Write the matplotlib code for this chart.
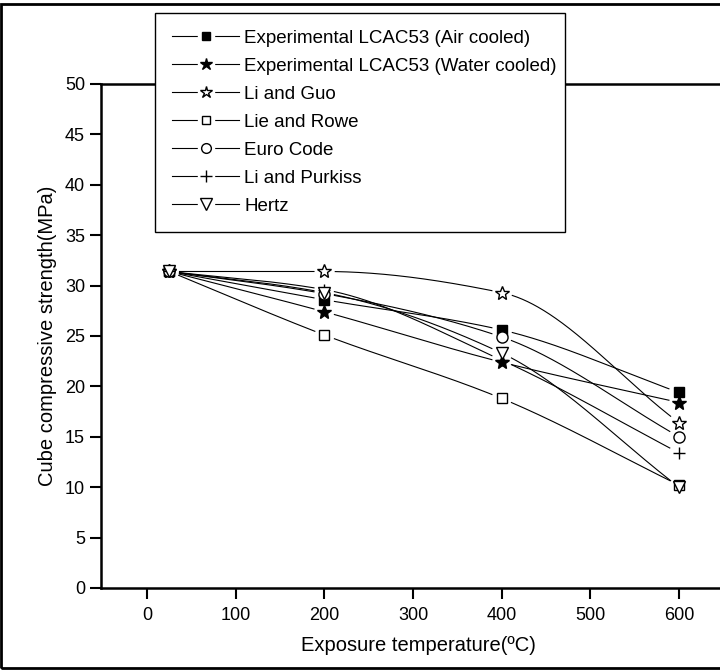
import numpy as np
import matplotlib
matplotlib.use('Agg')
import matplotlib.pyplot as plt
from matplotlib.patches import Rectangle
from matplotlib.legend_handler import HandlerTuple

plt.rcParams['font.family'] = ['Liberation Sans', 'DejaVu Sans']

# Data
temps = [25, 200, 400, 600]
air_cooled = [31.4, 28.6, 25.6, 19.4]
water_cooled = [31.4, 27.4, 22.4, 18.4]
li_guo = [31.4, 31.4, 29.3, 16.4]
lie_rowe = [31.4, 25.1, 18.8, 10.2]
euro_code = [31.4, 29.2, 24.9, 15.0]
li_purkiss = [31.4, 29.6, 22.6, 13.4]
hertz = [31.4, 29.3, 23.3, 10.0]

labels = ['Experimental LCAC53 (Air cooled)', 'Experimental LCAC53 (Water cooled)',
          'Li and Guo', 'Lie and Rowe', 'Euro Code', 'Li and Purkiss', 'Hertz']
series = [air_cooled, water_cooled, li_guo, lie_rowe, euro_code, li_purkiss, hertz]
markers = ['s', '*', '*', 's', 'o', '+', 'v']
filled = [True, True, False, False, False, False, False]
msizes = [7, 10, 10, 7, 8, 9, 9]


def pchip(x, y, xs):
    # monotone cubic interpolation (smooth connecting curve)
    x = np.asarray(x, float)
    y = np.asarray(y, float)
    h = np.diff(x)
    d = np.diff(y) / h
    n = len(x)
    m = np.zeros(n)
    for k in range(1, n - 1):
        if d[k - 1] * d[k] <= 0:
            m[k] = 0
        else:
            w1 = 2 * h[k] + h[k - 1]
            w2 = h[k] + 2 * h[k - 1]
            m[k] = (w1 + w2) / (w1 / d[k - 1] + w2 / d[k])
    m[0] = d[0]
    m[-1] = d[-1]
    out = np.empty_like(xs)
    for i, xv in enumerate(xs):
        k = min(np.searchsorted(x, xv, side='right') - 1, n - 2)
        t = (xv - x[k]) / h[k]
        h00 = 2 * t**3 - 3 * t**2 + 1
        h10 = t**3 - 2 * t**2 + t
        h01 = -2 * t**3 + 3 * t**2
        h11 = t**3 - t**2
        out[i] = h00 * y[k] + h10 * h[k] * m[k] + h01 * y[k + 1] + h11 * h[k] * m[k + 1]
    return out


fig = plt.figure(figsize=(7.2, 6.7), dpi=100)
ax = fig.add_axes([101 / 720, 82 / 670, 634 / 720, 504 / 670])
ax.set_xlim(-52, 663)
ax.set_ylim(0, 50)

xs = np.linspace(temps[0], temps[-1], 600)
fig.canvas.draw()
handles = []
for ys, mk, fl, ms, lab in zip(series, markers, filled, msizes, labels):
    curve = pchip(temps, ys, xs)
    # leave a small gap around each marker
    pts = ax.transData.transform(np.column_stack([xs, curve]))
    marks = ax.transData.transform(np.column_stack([temps, ys]))
    dist = np.min(np.hypot(pts[:, None, 0] - marks[None, :, 0],
                           pts[:, None, 1] - marks[None, :, 1]), axis=1)
    curve = np.where(dist < 10, np.nan, curve)
    ax.plot(xs, curve, color='black', lw=0.8)
    face = 'black' if fl else 'white'
    ax.plot(temps, ys, linestyle='none', marker=mk, markersize=ms,
            markerfacecolor=face, markeredgecolor='black', markeredgewidth=1.0)
    # legend handle: line, white gap, marker (Origin style "-x-")
    ln, = ax.plot([], [], color='black', lw=0.8)
    gap, = ax.plot([], [], linestyle='none', marker='s', markersize=11,
                   markerfacecolor='white', markeredgecolor='white')
    mh, = ax.plot([], [], linestyle='none', marker=mk, markersize=ms - 1,
                  markerfacecolor=face, markeredgecolor='black', markeredgewidth=1.0)
    handles.append((ln, gap, mh))

ax.set_xticks([0, 100, 200, 300, 400, 500, 600])
ax.set_yticks(range(0, 51, 5))
ax.tick_params(direction='out', length=8, width=1.5, labelsize=13)
ax.tick_params(axis='x', pad=6)
for sp in ax.spines.values():
    sp.set_linewidth(1.8)
ax.set_xlabel('Exposure temperature(ºC)', fontsize=14.5, labelpad=8)
ax.set_ylabel('Cube compressive strength(MPa)', fontsize=14.5, labelpad=6)

leg = fig.legend(handles, labels, loc='upper left',
                 bbox_to_anchor=(155 / 720, 1 - 13 / 670, 410 / 720, 0.0),
                 mode='expand', fontsize=13.5,
                 handler_map={tuple: HandlerTuple(ndivide=1, pad=0)},
                 frameon=True, fancybox=False, framealpha=1, edgecolor='black',
                 handlelength=3.6, handletextpad=0.27, labelspacing=0.58,
                 borderpad=0.9, borderaxespad=0)
leg.get_frame().set_linewidth(1.0)

# outer frame of the figure
fig.patches.append(Rectangle((1 / 720, 2 / 670), 1.2, 1 - 6 / 670, transform=fig.transFigure,
                             fill=False, edgecolor='black', linewidth=2.0))

fig.savefig('out.png', dpi=100)
